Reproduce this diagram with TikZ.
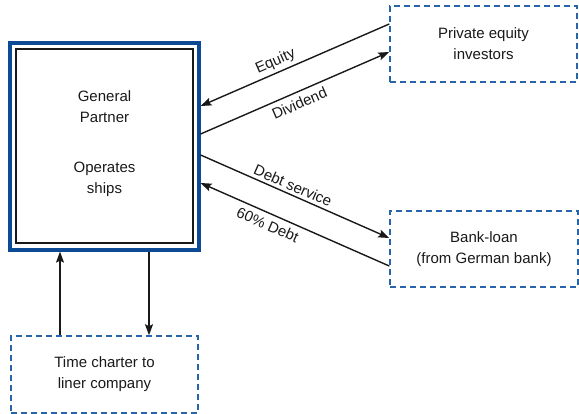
\documentclass[tikz,border=0pt]{standalone}
\usepackage{fontspec}
\setmainfont{Liberation Sans}
\usetikzlibrary{arrows.meta}
\definecolor{gpblue}{RGB}{12,74,150}
\definecolor{dashblue}{RGB}{40,100,170}
\definecolor{ink}{RGB}{25,25,25}
\begin{document}
\begin{tikzpicture}[x=1pt,y=-1pt,
  every node/.style={font=\fontsize{15}{21}\selectfont, text=ink},
  gpbox/.style={draw=gpblue, line width=3.2pt, rectangle, minimum width=189pt, minimum height=207pt, align=center, inner sep=0pt},
  innerbox/.style={draw=ink, line width=1.2pt, rectangle, minimum width=177pt, minimum height=194pt, inner sep=0pt},
  partybox/.style={draw=dashblue, line width=1.5pt, dash pattern=on 6pt off 4pt, rectangle, align=center, inner sep=0pt},
  arr/.style={draw=ink, line width=1.4pt, -{Stealth[length=11pt,width=8pt,inset=2pt]}},
  lbl/.style={sloped, inner sep=3pt}
]
\useasboundingbox (0,0) rectangle (579,414);
% General partner
\node[gpbox] (gp) at (104.5,146.5) {};
\node[innerbox] (gpin) at (104.5,146) {};
\node[align=center] (gptext) at (104.5,144) {General\\Partner\\[29pt]Operates\\ships};
% Other parties
\node[partybox, minimum width=187pt, minimum height=76pt] (pe) at (483.5,44) {Private equity\\investors};
\node[partybox, minimum width=188pt, minimum height=76pt] (bank) at (484,249) {Bank-loan\\(from German bank)};
\node[partybox, minimum width=187pt, minimum height=77pt] (tc) at (104.5,374.5) {Time charter to\\liner company};
% Equity flows
\draw[arr] ([yshift=20pt]pe.west) -- node[lbl, above, pos=0.58] {Equity} ([yshift=40.5pt]gp.east);
\draw[arr] ([yshift=12.5pt]gp.east) -- node[lbl, below, pos=0.5, inner sep=5pt] {Dividend} ([yshift=-8pt]pe.west);
% Debt flows
\draw[arr] ([yshift=-8.5pt]gp.east) -- node[lbl, above, pos=0.47] {Debt service} ([yshift=11pt]bank.west);
\draw[arr] ([yshift=-17pt]bank.west) -- node[lbl, below, pos=0.62, inner sep=5pt] {60\% Debt} ([yshift=-36.5pt]gp.east);
% Time charter
\draw[arr] ([xshift=-44.5pt]tc.north) -- ([xshift=-44.5pt]gp.south);
\draw[arr] ([xshift=44.5pt]gp.south) -- ([xshift=44.5pt]tc.north);
\end{tikzpicture}
\end{document}
